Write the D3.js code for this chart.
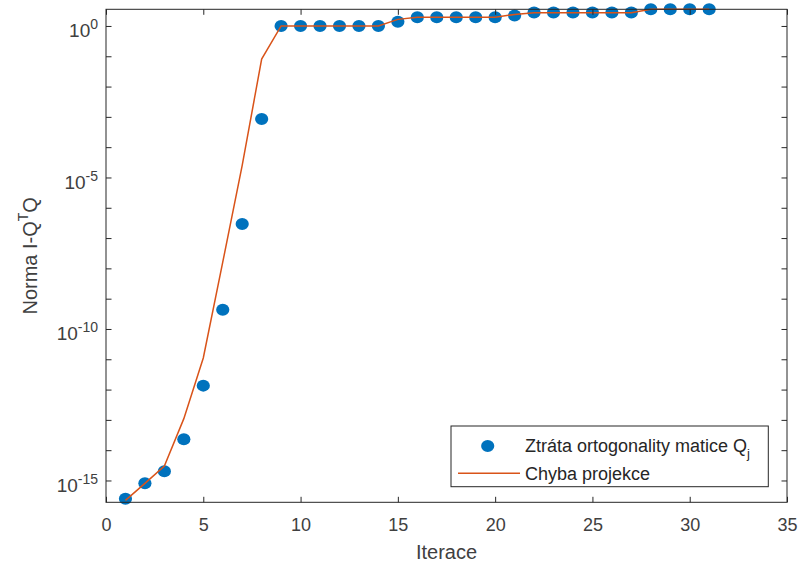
<!DOCTYPE html>
<html>
<head>
<meta charset="utf-8">
<script src="https://cdn.jsdelivr.net/npm/d3@7"></script>
<style>
  html, body { margin: 0; padding: 0; background: #fff; }
  svg { display: block; font-family: "Liberation Sans", Arial, Helvetica, sans-serif; }
</style>
</head>
<body>
<svg id="chart" width="800" height="565"></svg>
<script>
const iterations = [1,2,3,4,5,6,7,8,9,10,11,12,13,14,15,16,17,18,19,20,21,22,23,24,25,26,27,28,29,30,31];
const orthogonalityLoss = [2.5e-16, 8.1e-16, 2.0e-15, 2.3e-14, 1.35e-12, 4.3e-10, 2.9e-7, 8.5e-4,
  1.0, 1.0, 1.0, 1.0, 1.0, 1.0, 1.38, 1.95, 1.95, 1.95, 1.95, 1.95, 2.2,
  2.8, 2.8, 2.8, 2.8, 2.8, 2.8, 3.55, 3.55, 3.55, 3.55];
const projectionError = [2.2e-16, 8.0e-16, 3.0e-15, 1.1e-13, 1.1e-11, 1.6e-8, 2.5e-5, 8.1e-2,
  1.0, 1.0, 1.0, 1.0, 1.0, 1.0, 1.65, 1.95, 1.95, 1.95, 1.95, 1.95, 2.4,
  2.75, 2.75, 2.75, 2.75, 2.75, 2.75, 3.55, 3.55, 3.55, 3.55];
const xTicks = [0, 5, 10, 15, 20, 25, 30, 35];
const yMinorTicks = [1e-15,1e-14,1e-13,1e-12,1e-11,1e-10,1e-9,1e-8,1e-7,1e-6,1e-5,1e-4,1e-3,1e-2,1e-1,1];
const yLabelTicks = [{v: 1e-15, exp: "-15"}, {v: 1e-10, exp: "-10"}, {v: 1e-5, exp: "-5"}, {v: 1, exp: "0"}];
const seriesNames = ["Ztráta ortogonality matice Q", "Chyba projekce"];

const axisColor = "#262626";
const blue = "#0072BD";
const orange = "#D95319";

const L = 106, R = 787, T = 9.3, B = 502.3;
const x = d3.scaleLinear().domain([0, 35]).range([L, R]);
const y = d3.scaleLog().domain([Math.pow(10, -15.72), Math.pow(10, 0.55)]).range([B, T]);

const svg = d3.select("#chart");

const line = d3.line().x((d, i) => x(iterations[i])).y(d => y(d));

// scatter
svg.append("g").selectAll("ellipse")
  .data(orthogonalityLoss)
  .join("ellipse")
  .attr("cx", (d, i) => x(iterations[i]))
  .attr("cy", d => y(d))
  .attr("rx", 6.6)
  .attr("ry", 6)
  .attr("fill", blue);

// line series on top
svg.append("path")
  .datum(projectionError)
  .attr("d", line)
  .attr("fill", "none")
  .attr("stroke", orange)
  .attr("stroke-width", 1.5);

// axes: bottom
const axisBottom = d3.axisBottom(x).tickValues(xTicks).tickSize(-5.5).tickPadding(0).tickFormat(d3.format("d"));
const gB = svg.append("g").attr("transform", `translate(0,${B})`).call(axisBottom);
gB.select(".domain").remove();
gB.selectAll(".tick line").attr("stroke", axisColor);
gB.selectAll(".tick text").attr("fill", "#404040").attr("font-size", 18)
  .attr("font-family", "'Liberation Sans', Arial, sans-serif").attr("y", 23).attr("dy", "0.32em");

// top ticks
const axisTop = d3.axisTop(x).tickValues(xTicks).tickSize(-5.5).tickFormat("");
const gT = svg.append("g").attr("transform", `translate(0,${T})`).call(axisTop);
gT.select(".domain").remove();
gT.selectAll(".tick line").attr("stroke", axisColor);

// left ticks
const axisLeft = d3.axisLeft(y).tickValues(yMinorTicks).tickSize(-5.5).tickFormat("");
const gL = svg.append("g").attr("transform", `translate(${L},0)`).call(axisLeft);
gL.select(".domain").remove();
gL.selectAll(".tick line").attr("stroke", axisColor);

// right ticks
const axisRight = d3.axisRight(y).tickValues(yMinorTicks).tickSize(-5.5).tickFormat("");
const gR = svg.append("g").attr("transform", `translate(${R},0)`).call(axisRight);
gR.select(".domain").remove();
gR.selectAll(".tick line").attr("stroke", axisColor);

// y tick labels with superscripts
const yl = svg.append("g").attr("fill", "#404040");
yLabelTicks.forEach(t => {
  const txt = yl.append("text")
    .attr("x", 98)
    .attr("y", y(t.v) + 11.3)
    .attr("text-anchor", "end")
    .attr("font-size", 19);
  txt.append("tspan").text("10");
  txt.append("tspan").attr("dy", -8).attr("font-size", 14).text(t.exp);
});

// box
svg.append("rect")
  .attr("x", L).attr("y", T).attr("width", R - L).attr("height", B - T)
  .attr("fill", "none").attr("stroke", axisColor).attr("stroke-width", 1);

// axis labels
svg.append("text")
  .attr("x", (L + R) / 2).attr("y", 559)
  .attr("text-anchor", "middle").attr("font-size", 20).attr("fill", "#404040")
  .text("Iterace");

const ylab = svg.append("text")
  .attr("transform", `translate(36.5,${(T + B) / 2}) rotate(-90)`)
  .attr("text-anchor", "middle").attr("font-size", 20).attr("fill", "#404040");
ylab.append("tspan").text("Norma I-Q");
ylab.append("tspan").attr("dy", -9).attr("font-size", 14).text("T");
ylab.append("tspan").attr("dy", 9).text("Q");

// legend
const lg = svg.append("g");
lg.append("rect")
  .attr("x", 451).attr("y", 426).attr("width", 317.3).attr("height", 60.7)
  .attr("fill", "#fff").attr("stroke", axisColor).attr("stroke-width", 1);
lg.append("ellipse").attr("cx", 487.7).attr("cy", 446).attr("rx", 6.6).attr("ry", 6).attr("fill", blue);
lg.append("line").attr("x1", 458).attr("x2", 520).attr("y1", 473.3).attr("y2", 473.3)
  .attr("stroke", orange).attr("stroke-width", 1.5);
const t1 = lg.append("text").attr("x", 525).attr("y", 452).attr("font-size", 18).attr("fill", "#262626");
t1.append("tspan").text(seriesNames[0]);
t1.append("tspan").attr("dy", 6).attr("font-size", 13).text("j");
lg.append("text").attr("x", 525).attr("y", 479.5).attr("font-size", 18).attr("fill", "#262626")
  .text(seriesNames[1]);
</script>
</body>
</html>
